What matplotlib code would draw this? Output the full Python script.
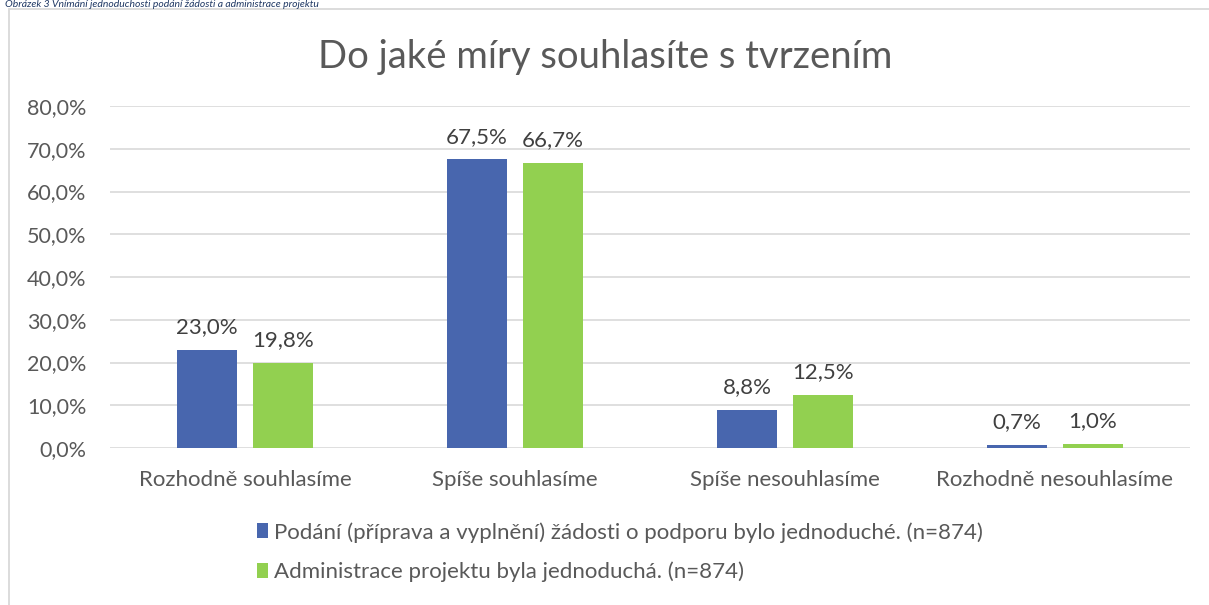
import matplotlib.pyplot as plt
import numpy as np
from matplotlib.patches import Rectangle

categories = ['Rozhodně souhlasíme', 'Spíše souhlasíme', 'Spíše nesouhlasíme', 'Rozhodně nesouhlasíme']
podani = [23.0, 67.5, 8.8, 0.7]
administrace = [19.8, 66.7, 12.5, 1.0]
series_names = ['Podání (příprava a vyplnění) žádosti o podporu bylo jednoduché. (n=874)',
                'Administrace projektu byla jednoduchá. (n=874)']
title = 'Do jaké míry souhlasíte s tvrzením'
caption = 'Obrázek 3 Vnímání jednoduchosti podání žádosti a administrace projektu'

blue = '#4866AE'
green = '#92D050'
grey = '#595959'
fs = 16

plt.rcParams['font.family'] = ['Lato', 'DejaVu Sans']

fig = plt.figure(figsize=(12.09, 6.05), dpi=100)
W, H = 1209, 605

# caption (mostly cut off in the original)
fig.text(5 / W, 1, caption, ha='left', va='top', fontsize=7.5,
         style='italic', color='#1F3864')

# chart frame
fig.patches.append(Rectangle((9 / W, -0.01), 1.1, 1 - 9 / H + 0.01, transform=fig.transFigure,
                             fill=False, edgecolor='#D9D9D9', linewidth=1.3))

ax = fig.add_axes([110 / W, 1 - 448 / H, 1080 / W, (448 - 106) / H])
x = np.arange(len(categories))
bw = 60 / 270
off = 38 / 270
b1 = ax.bar(x - off, podani, bw, color=blue, label=series_names[0])
b2 = ax.bar(x + off, administrace, bw, color=green, label=series_names[1])

for bars, vals in ((b1, podani), (b2, administrace)):
    for r, v in zip(bars, vals):
        ax.text(r.get_x() + r.get_width() / 2, v + 3.0, f'{v:.1f}%'.replace('.', ','),
                ha='center', va='bottom', fontsize=fs, color='#404040')

ax.set_xlim(-0.5, 3.5)
ax.set_ylim(0, 80)
ax.set_yticks(np.arange(0, 81, 10))
ax.set_yticklabels([f'{t:.1f}%'.replace('.', ',') for t in np.arange(0, 81, 10)])
ax.set_xticks(x)
ax.set_xticklabels(categories)
ax.tick_params(axis='both', length=0, labelsize=fs, labelcolor=grey)
ax.tick_params(axis='y', labelsize=15.5, pad=17)
ax.tick_params(axis='x', pad=16)
ax.grid(axis='y', color='#D9D9D9', linewidth=1.2)
ax.set_axisbelow(True)
for s in ax.spines.values():
    s.set_visible(False)

fig.text(605 / W, 1 - 57 / H, title, ha='center', va='center', fontsize=27.5, color=grey)

fig.legend(handles=[b1, b2], loc='upper left', bbox_to_anchor=(246 / W, 1 - 511 / H),
           frameon=False, fontsize=fs, labelcolor=grey, handlelength=0.5, handleheight=0.65,
           handletextpad=0.25, labelspacing=0.85, borderpad=0)

fig.savefig('out.png', dpi=100)
